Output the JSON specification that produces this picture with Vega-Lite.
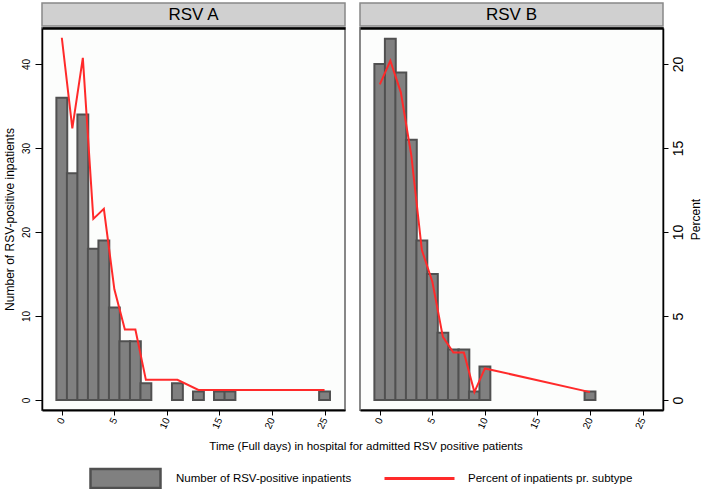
{
  "$schema": "https://vega.github.io/schema/vega-lite/v6.json",
  "padding": {"left": 2, "top": 2, "right": 0, "bottom": 0},
  "background": "white",
  "datasets": {
    "hist": [
      {"subtype": "RSV A", "days": 0, "count": 36, "percent": 21.56},
      {"subtype": "RSV A", "days": 1, "count": 27, "percent": 16.17},
      {"subtype": "RSV A", "days": 2, "count": 34, "percent": 20.36},
      {"subtype": "RSV A", "days": 3, "count": 18, "percent": 10.78},
      {"subtype": "RSV A", "days": 4, "count": 19, "percent": 11.38},
      {"subtype": "RSV A", "days": 5, "count": 11, "percent": 6.59},
      {"subtype": "RSV A", "days": 6, "count": 7, "percent": 4.19},
      {"subtype": "RSV A", "days": 7, "count": 7, "percent": 4.19},
      {"subtype": "RSV A", "days": 8, "count": 2, "percent": 1.2},
      {"subtype": "RSV A", "days": 11, "count": 2, "percent": 1.2},
      {"subtype": "RSV A", "days": 13, "count": 1, "percent": 0.6},
      {"subtype": "RSV A", "days": 15, "count": 1, "percent": 0.6},
      {"subtype": "RSV A", "days": 16, "count": 1, "percent": 0.6},
      {"subtype": "RSV A", "days": 25, "count": 1, "percent": 0.6},
      {"subtype": "RSV B", "days": 0, "count": 40, "percent": 18.78},
      {"subtype": "RSV B", "days": 1, "count": 43, "percent": 20.19},
      {"subtype": "RSV B", "days": 2, "count": 39, "percent": 18.31},
      {"subtype": "RSV B", "days": 3, "count": 31, "percent": 14.55},
      {"subtype": "RSV B", "days": 4, "count": 19, "percent": 8.92},
      {"subtype": "RSV B", "days": 5, "count": 15, "percent": 7.04},
      {"subtype": "RSV B", "days": 6, "count": 8, "percent": 3.76},
      {"subtype": "RSV B", "days": 7, "count": 6, "percent": 2.82},
      {"subtype": "RSV B", "days": 8, "count": 6, "percent": 2.82},
      {"subtype": "RSV B", "days": 9, "count": 1, "percent": 0.47},
      {"subtype": "RSV B", "days": 10, "count": 4, "percent": 1.88},
      {"subtype": "RSV B", "days": 20, "count": 1, "percent": 0.47}
    ]
  },
  "vconcat": [
    {
      "title": {"text": "Time (Full days) in hospital for admitted RSV positive patients", "orient": "bottom", "offset": 10, "dx": 14, "fontSize": 11.5, "fontWeight": "normal", "font": "Liberation Sans", "color": "black", "anchor": "middle"},
      "spacing": 13,
      "hconcat": [
        {
          "spacing": 0,
          "vconcat": [
            {
              "width": 303, "height": 23,
              "view": {"fill": "#d0d0d0", "stroke": "#888888", "strokeWidth": 1.5},
              "data": {"values": [{"label": "RSV A"}]},
              "mark": {"type": "text", "fontSize": 17, "font": "Liberation Sans", "color": "black"},
              "encoding": {"text": {"field": "label", "type": "nominal"}}
            },
            {
              "width": 303, "height": 382,
              "view": {"stroke": "#888888", "strokeWidth": 2, "fill": "#fcfdfc"},
              "data": {"name": "hist"},
              "transform": [{"filter": "datum.subtype == 'RSV A'"}],
              "layer": [
                {
                  "mark": {"type": "bar", "size": 10.87, "stroke": "#505050", "strokeWidth": 2},
                  "encoding": {
                    "x": {"field": "days", "type": "quantitative", "scale": {"domain": [-1.41, 26.47], "nice": false, "zero": false},
                      "axis": {"values": [0, 5, 10, 15, 20, 25], "title": null, "labelAngle": -65, "labelFontSize": 10, "tickSize": 5, "domainWidth": 2, "labelPadding": 3}},
                    "y": {"field": "count", "type": "quantitative", "scale": {"domain": [-1.19, 44.29], "nice": false, "zero": false},
                      "axis": {"orient": "left", "values": [0, 10, 20, 30, 40], "title": "Number of RSV-positive inpatients", "labelAngle": 270, "labelAlign": "center", "labelBaseline": "bottom", "labelFontSize": 10, "tickSize": 7, "labelPadding": 4, "titleFontSize": 12, "titlePadding": 5, "domainWidth": 1.5}},
                    "y2": {"datum": 0},
                    "fill": {"datum": "Number of RSV-positive inpatients", "type": "nominal", "scale": {"range": ["#808080"]},
                      "legend": {"title": null, "orient": "none", "legendX": 47, "legendY": 439, "symbolType": "M-1,-0.271H1V0.271H-1Z", "symbolSize": 4900, "symbolStrokeColor": "#505050", "symbolStrokeWidth": 2.5, "symbolFillColor": "#808080", "labelFontSize": 11.5, "labelOffset": 14, "labelLimit": 0}}
                  }
                },
                {
                  "mark": {"type": "line", "strokeWidth": 2},
                  "encoding": {
                    "x": {"field": "days", "type": "quantitative", "axis": {"orient": "top", "labels": false, "ticks": false, "title": null, "domainWidth": 2.5}},
                    "y": {"field": "percent", "type": "quantitative", "scale": {"domain": [-0.595, 22.14], "nice": false, "zero": false}, "axis": null},
                    "stroke": {"datum": "Percent of inpatients pr. subtype", "type": "nominal", "scale": {"range": ["#ff2a2a"]},
                      "legend": {"title": null, "orient": "none", "legendX": 341, "legendY": 439, "symbolType": "stroke", "symbolSize": 4900, "symbolStrokeWidth": 3, "labelFontSize": 11.5, "labelOffset": 12, "labelLimit": 0}}
                  }
                }
              ],
              "resolve": {"scale": {"y": "independent"}, "axis": {"x": "independent"}}
            }
          ]
        },
        {
          "spacing": 0,
          "vconcat": [
            {
              "width": 303, "height": 23,
              "view": {"fill": "#d0d0d0", "stroke": "#888888", "strokeWidth": 1.5},
              "data": {"values": [{"label": "RSV B"}]},
              "mark": {"type": "text", "fontSize": 17, "font": "Liberation Sans", "color": "black"},
              "encoding": {"text": {"field": "label", "type": "nominal"}}
            },
            {
              "width": 303, "height": 382,
              "view": {"stroke": "#888888", "strokeWidth": 2, "fill": "#fcfdfc"},
              "data": {"name": "hist"},
              "transform": [{"filter": "datum.subtype == 'RSV B'"}],
              "layer": [
                {
                  "mark": {"type": "bar", "size": 10.87, "stroke": "#505050", "strokeWidth": 2},
                  "encoding": {
                    "x": {"field": "days", "type": "quantitative", "scale": {"domain": [-1.41, 26.47], "nice": false, "zero": false},
                      "axis": {"values": [0, 5, 10, 15, 20, 25], "title": null, "labelAngle": -65, "labelFontSize": 10, "tickSize": 5, "domainWidth": 2, "labelPadding": 3}},
                    "y": {"field": "count", "type": "quantitative", "scale": {"domain": [-1.19, 44.29], "nice": false, "zero": false}, "axis": null},
                    "y2": {"datum": 0},
                    "fill": {"datum": "Number of RSV-positive inpatients", "type": "nominal", "scale": {"range": ["#808080"]},
                      "legend": {"title": null, "orient": "none", "legendX": 47, "legendY": 439, "symbolType": "M-1,-0.271H1V0.271H-1Z", "symbolSize": 4900, "symbolStrokeColor": "#505050", "symbolStrokeWidth": 2.5, "symbolFillColor": "#808080", "labelFontSize": 11.5, "labelOffset": 14, "labelLimit": 0}}
                  }
                },
                {
                  "mark": {"type": "line", "strokeWidth": 2},
                  "encoding": {
                    "x": {"field": "days", "type": "quantitative", "axis": {"orient": "top", "labels": false, "ticks": false, "title": null, "domainWidth": 2.5}},
                    "y": {"field": "percent", "type": "quantitative", "scale": {"domain": [-0.595, 22.14], "nice": false, "zero": false},
                      "axis": {"orient": "right", "values": [0, 5, 10, 15, 20], "title": "Percent", "titleAngle": 270, "titleBaseline": "top", "labelAngle": 270, "labelAlign": "center", "labelBaseline": "top", "labelFontSize": 14, "tickSize": 5, "labelPadding": 3, "titleFontSize": 12, "titlePadding": 5, "domainWidth": 1.5}},
                    "stroke": {"datum": "Percent of inpatients pr. subtype", "type": "nominal", "scale": {"range": ["#ff2a2a"]},
                      "legend": {"title": null, "orient": "none", "legendX": 341, "legendY": 439, "symbolType": "stroke", "symbolSize": 4900, "symbolStrokeWidth": 3, "labelFontSize": 11.5, "labelOffset": 12, "labelLimit": 0}}
                  }
                }
              ],
              "resolve": {"scale": {"y": "independent"}, "axis": {"x": "independent"}}
            }
          ]
        }
      ]
    }
  ],
  "config": {
    "font": "Liberation Sans",
    "axis": {"grid": false, "domainColor": "black", "tickColor": "black", "labelColor": "black", "titleColor": "black", "titleFontWeight": "normal", "labelFont": "Liberation Sans", "titleFont": "Liberation Sans"},
    "legend": {"labelFont": "Liberation Sans", "labelColor": "black", "padding": 0}
  }
}
